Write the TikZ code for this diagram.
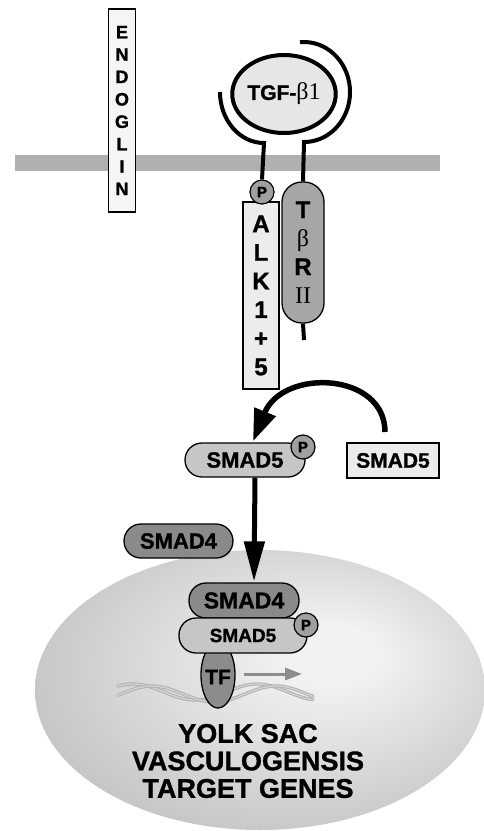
\documentclass[tikz,border=0pt]{standalone}
\usepackage{fontspec}
\setmainfont{Liberation Sans}[BoldFeatures={FakeBold=1.2}]
\newfontfamily\serifrm{Liberation Serif}
\usetikzlibrary{arrows.meta,shapes.geometric}
\definecolor{memb}{HTML}{B0B0B0}
\definecolor{lightfill}{HTML}{ECECEC}
\definecolor{tgffill}{HTML}{E6E6E6}
\definecolor{tbrfill}{HTML}{A6A6A6}
\definecolor{pfill}{HTML}{A0A0A0}
\definecolor{smadfive}{HTML}{C6C6C6}
\definecolor{smadfour}{HTML}{8A8A8A}
\definecolor{tffill}{HTML}{8C8C8C}
\definecolor{dnacol}{HTML}{B0B0B0}
\definecolor{dnain}{HTML}{D4D4D4}
\definecolor{nucin}{HTML}{F2F2F2}
\definecolor{nucout}{HTML}{A2A2A2}
\pgfdeclareradialshading{nucshade}{\pgfpoint{9bp}{7bp}}{color(0bp)=(nucin); color(5bp)=(nucin); color(50bp)=(nucout)}
\begin{document}
\begin{tikzpicture}[x=1pt,y=-1pt,
  rline/.style={line width=4pt, black},
  thinbox/.style={draw=black, line width=1.3pt, inner sep=0pt},
  pcirc/.style={circle, draw=black, line width=1.2pt, fill=pfill, minimum size=24pt, inner sep=0pt, font=\fontsize{15}{15}\selectfont\bfseries},
  smad/.style={thinbox, rounded corners=17pt, font=\fontsize{22}{22}\selectfont\bfseries},
  bigarrow/.style={line width=5pt, -{Triangle[length=40pt,width=20pt]}},
  dnastrand/.style={draw=dnacol, double=dnain, double distance=1.3pt, line width=1pt, line cap=round},
]
\useasboundingbox (0,0) rectangle (483,831);
\fill[white] (0,0) rectangle (483,831);
% nucleus
\shade[shading=nucshade] (260,690) ellipse [x radius=225, y radius=140];
% membrane
\fill[memb] (15,155) rectangle (440,171);
% receptors
\node[thinbox, fill=lightfill, minimum width=36pt, minimum height=187pt, align=center,
      font=\fontsize{24}{28.6}\selectfont\bfseries] (alk) at (261,295.5) {A\\L\\K\\1\\+\\5};
\node[thinbox, fill=tbrfill, rounded corners=20pt, minimum width=42pt, minimum height=141pt, align=center,
      font=\fontsize{24}{28.5}\selectfont\bfseries] (tbr) at (303,252.5)
      {T\\{\serifrm\mdseries β}\\R\\{\serifrm\mdseries II}};
\node[pcirc] (palk) at (262,192) {P};
\node[ellipse, draw=black, line width=4pt, fill=tgffill, minimum width=94pt, minimum height=78pt, inner sep=0pt,
      font=\fontsize{21}{21}\selectfont\bfseries] (tgf) at (284,94) {TGF-{\serifrm\mdseries\fontsize{24}{24}\selectfont β1}};
\coordinate (ltip) at (220,92);
\coordinate (rtip) at (300,42.2);
\coordinate (tail) at (304,340);
\draw[rline] (ltip) arc[start angle=180, end angle=90, x radius=44, y radius=51] -- (palk.north);
\draw[rline] (rtip) arc[start angle=-95, end angle=90, x radius=46, y radius=50] -- (tbr.north);
\draw[rline] (tbr.south) -- (tail);
% endoglin
\node[thinbox, line width=1.5pt, fill=white!96!black, minimum width=27pt, minimum height=203pt, align=center,
      font=\fontsize{18}{22.4}\selectfont\bfseries] (endo) at (122,110.5) {E\\N\\D\\O\\G\\L\\I\\N};
% SMADs in cytoplasm
\node[smad, fill=smadfive, minimum width=120pt, minimum height=34pt] (s5p) at (245,460) {SMAD5};
\node[pcirc] (p5) at (303,447) {P};
\node[thinbox, fill=lightfill, minimum width=92pt, minimum height=35pt, font=\fontsize{21}{21}\selectfont\bfseries] (s5) at (393,460.5) {SMAD5};
\node[smad, fill=smadfour, minimum width=109pt, minimum height=34pt] (s4) at (178.5,541) {SMAD4};
\coordinate (arcstart) at (385,432);
\draw[line width=5.5pt, -{Triangle[length=32pt,width=22pt]}] (arcstart) .. controls (385,372) and (283,368) .. ([xshift=8pt,yshift=1pt]s5p.north);
% DNA
\draw[dnastrand] plot[domain=118:313, samples=80, smooth] (\x,{692-8*cos(2.9032*(\x-133))});
\draw[dnastrand] plot[domain=118:313, samples=80, smooth] (\x,{694-8*cos(2.9032*(\x-152))});
% complex
\node[ellipse, draw=black, line width=1.3pt, fill=tffill, minimum width=34pt, minimum height=66pt, inner sep=0pt] (tf) at (218,675) {};
\node[font=\fontsize{21}{21}\selectfont\bfseries] (tftext) at (218,677) {TF};
\coordinate (tfgoal) at (302,674);
\draw[tffill, line width=3pt, -{Triangle[length=17pt,width=12pt]}] ([xshift=8pt]tf.east |- tfgoal) -- (tfgoal);
\node[smad, fill=smadfour, minimum width=110pt, minimum height=35pt, font=\fontsize{23}{23}\selectfont\bfseries] (s4c) at (244,600.5) {SMAD4};
\node[smad, fill=smadfive, minimum width=128pt, minimum height=35pt, font=\fontsize{19}{19}\selectfont\bfseries] (s5c) at (243,635.5) {SMAD5};
\node[pcirc] (pc) at (306,625) {P};
\draw[bigarrow] ([xshift=10pt]s5p.south) -- ([xshift=10pt,yshift=1pt]s4c.north);
% text
\node[align=center, font=\fontsize{27}{27.5}\selectfont\bfseries] (genes) at (248,761) {YOLK SAC\\VASCULOGENSIS\\TARGET GENES};
\end{tikzpicture}
\end{document}
